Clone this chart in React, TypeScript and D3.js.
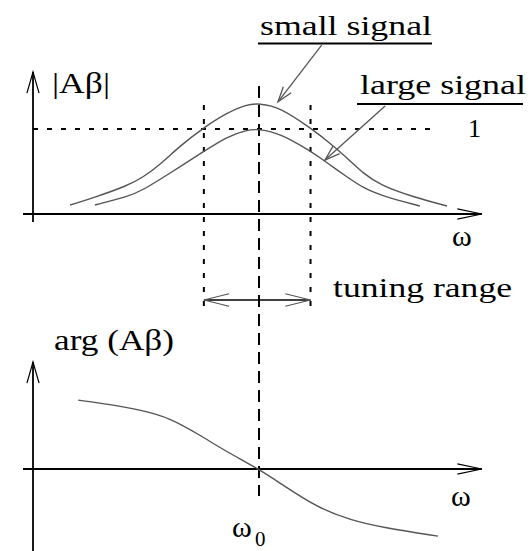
import React from "react";
import * as d3 from "d3";

// Loop gain magnitude |Aβ| versus ω (ω0 = 5 in these units)
const smallSignalOmega = [0.82, 1.33, 2.08, 2.43, 2.81, 3.25, 3.76, 4.29, 4.73, 5.0, 5.46, 6.17, 6.57, 6.95, 7.3, 7.68, 8.41, 9.16];
const smallSignalGain = [0.106, 0.19, 0.33, 0.43, 0.58, 0.8, 1.01, 1.19, 1.29, 1.3, 1.26, 1.0, 0.835, 0.66, 0.48, 0.34, 0.2, 0.094];

const largeSignalOmega = [1.37, 2.08, 2.43, 3.03, 3.76, 4.29, 4.73, 5.0, 5.46, 6.17, 6.42, 6.95, 7.3, 7.68, 8.56];
const largeSignalGain = [0.106, 0.2, 0.28, 0.48, 0.73, 0.91, 0.99, 1.0, 0.95, 0.73, 0.635, 0.435, 0.31, 0.22, 0.094];

// Loop gain phase arg(Aβ) versus ω
const phaseOmega = [1.0, 1.7, 2.43, 3.03, 3.69, 4.29, 5.0, 5.53, 6.28, 7.01, 7.74, 8.96];
const phaseValue = [0.81, 0.76, 0.69, 0.6, 0.4, 0.2, 0, -0.19, -0.45, -0.6, -0.69, -0.79];

const omega0 = 5;
const tuningRange = [3.78, 6.14];
const unityGain = 1;

const W = 530;
const H = 551;

const x = d3.scaleLinear().domain([0, 10]).range([33, 485]);
const yTop = d3.scaleLinear().domain([0, 1]).range([214, 129]);
const yBot = d3.scaleLinear().domain([0, 1]).range([469, 384]);

const zip = (xs: number[], ys: number[]) => xs.map((v, i) => [v, ys[i]] as [number, number]);

const lineTop = d3
  .line<[number, number]>()
  .x((d) => x(d[0]))
  .y((d) => yTop(d[1]))
  .curve(d3.curveBasis);

const lineBot = d3
  .line<[number, number]>()
  .x((d) => x(d[0]))
  .y((d) => yBot(d[1]))
  .curve(d3.curveBasis);

// Open arrowhead: two short strokes meeting at the tip
function arrowHead(tx: number, ty: number, fx: number, fy: number, len: number, halfDeg: number) {
  const ang = Math.atan2(fy - ty, fx - tx);
  const h = (halfDeg * Math.PI) / 180;
  const a1 = [tx + len * Math.cos(ang + h), ty + len * Math.sin(ang + h)];
  const a2 = [tx + len * Math.cos(ang - h), ty + len * Math.sin(ang - h)];
  return `M${a1[0]},${a1[1]}L${tx},${ty}L${a2[0]},${a2[1]}`;
}

const serif =
  '"Liberation Serif", "Times New Roman", Times, Tinos, "DejaVu Serif", "Noto Serif", FreeSerif, "Nimbus Roman", serif';
const CURVE = "#555";
const txt = { fontFamily: serif, fill: "#000" } as React.CSSProperties;

export default function App() {
  const axisX0 = x(0);
  const axisXEnd = x(9.93);

  // annotation arrows in data coordinates
  const smallTail = [x(6.39), yTop(1.99)];
  const smallTip = [x(5.42), yTop(1.32)];
  const largeTail = [x(7.79), yTop(1.27)];
  const largeTip = [x(6.46), yTop(0.635)];

  const tL = x(tuningRange[0]);
  const tR = x(tuningRange[1]);
  const tY = 300;

  return (
    <svg width={W} height={H} style={{ position: "fixed", left: 0, top: 0, background: "#fff" }}>
      <rect width={W} height={H} fill="#fff" />

      {/* upper plot axes */}
      <line x1={axisX0} y1={yTop(1.67)} x2={axisX0} y2={222} stroke="#000" strokeWidth={1.8} />
      <path d={arrowHead(axisX0, yTop(1.67), axisX0, 200, 22, 16)} fill="none" stroke="#000" strokeWidth={1.2} />
      <line x1={23} y1={yTop(0)} x2={axisXEnd} y2={yTop(0)} stroke="#000" strokeWidth={1.8} />
      <path d={arrowHead(axisXEnd, yTop(0), 0, yTop(0), 25, 12)} fill="none" stroke="#000" strokeWidth={1.2} />

      {/* unity gain level */}
      <line
        x1={axisX0}
        y1={yTop(unityGain)}
        x2={437}
        y2={yTop(unityGain)}
        stroke="#000"
        strokeWidth={2}
        strokeDasharray="5 9"
      />

      {/* tuning range limits */}
      {tuningRange.map((w, i) => (
        <line key={i} x1={x(w)} y1={105} x2={x(w)} y2={314} stroke="#000" strokeWidth={2} strokeDasharray="5 9" />
      ))}

      {/* ω0 marker */}
      <line x1={x(omega0)} y1={86} x2={x(omega0)} y2={496} stroke="#000" strokeWidth={2} strokeDasharray="12 7" />

      {/* gain curves */}
      <path d={lineTop(zip(smallSignalOmega, smallSignalGain)) || ""} fill="none" stroke={CURVE} strokeWidth={1.4} />
      <path d={lineTop(zip(largeSignalOmega, largeSignalGain)) || ""} fill="none" stroke={CURVE} strokeWidth={1.4} />

      {/* labels */}
      <text x={52} y={93} fontSize={29} textLength={58} lengthAdjust="spacingAndGlyphs" style={txt}>|Aβ|</text>
      <text x={260} y={35} fontSize={28} textLength={172} lengthAdjust="spacingAndGlyphs" style={txt}>small signal</text>
      <line x1={258} y1={43.5} x2={432} y2={43.5} stroke="#000" strokeWidth={1.8} />
      <text x={360} y={94} fontSize={28} textLength={166} lengthAdjust="spacingAndGlyphs" style={txt}>large signal</text>
      <line x1={357} y1={104} x2={523} y2={104} stroke="#000" strokeWidth={1.8} />
      <text x={468} y={137} fontSize={26} style={txt}>1</text>
      <text x={452} y={246} fontSize={30} style={txt}>ω</text>

      {/* label arrows */}
      <line x1={smallTail[0]} y1={smallTail[1]} x2={smallTip[0]} y2={smallTip[1]} stroke={CURVE} strokeWidth={1.3} />
      <path d={arrowHead(smallTip[0], smallTip[1], smallTail[0], smallTail[1], 16, 18)} fill="none" stroke={CURVE} strokeWidth={1.3} />
      <line x1={largeTail[0]} y1={largeTail[1]} x2={largeTip[0]} y2={largeTip[1]} stroke={CURVE} strokeWidth={1.3} />
      <path d={arrowHead(largeTip[0], largeTip[1], largeTail[0], largeTail[1], 16, 18)} fill="none" stroke={CURVE} strokeWidth={1.3} />

      {/* tuning range arrow */}
      <line x1={tL} y1={tY} x2={tR} y2={tY} stroke="#000" strokeWidth={1.6} />
      <path d={arrowHead(tL, tY, tR, tY, 26, 14)} fill="none" stroke="#555" strokeWidth={1.2} />
      <path d={arrowHead(tR, tY, tL, tY, 26, 14)} fill="none" stroke="#555" strokeWidth={1.2} />
      <text x={333} y={297} fontSize={28} textLength={179} lengthAdjust="spacingAndGlyphs" style={txt}>tuning range</text>

      {/* lower plot axes */}
      <line x1={axisX0} y1={362} x2={axisX0} y2={H + 5} stroke="#000" strokeWidth={1.8} />
      <path d={arrowHead(axisX0, 362, axisX0, 400, 22, 16)} fill="none" stroke="#000" strokeWidth={1.2} />
      <line x1={23} y1={yBot(0)} x2={axisXEnd} y2={yBot(0)} stroke="#000" strokeWidth={1.8} />
      <path d={arrowHead(axisXEnd, yBot(0), 0, yBot(0), 25, 12)} fill="none" stroke="#000" strokeWidth={1.2} />

      {/* phase curve */}
      <path d={lineBot(zip(phaseOmega, phaseValue)) || ""} fill="none" stroke={CURVE} strokeWidth={1.4} />

      <text x={54} y={350} fontSize={29} textLength={120} lengthAdjust="spacingAndGlyphs" style={txt}>arg (Aβ)</text>
      <text x={451} y={506} fontSize={30} style={txt}>ω</text>
      <text x={232} y={537} fontSize={30} style={txt}>ω</text>
      <text x={255} y={546} fontSize={21} style={txt}>0</text>
    </svg>
  );
}
